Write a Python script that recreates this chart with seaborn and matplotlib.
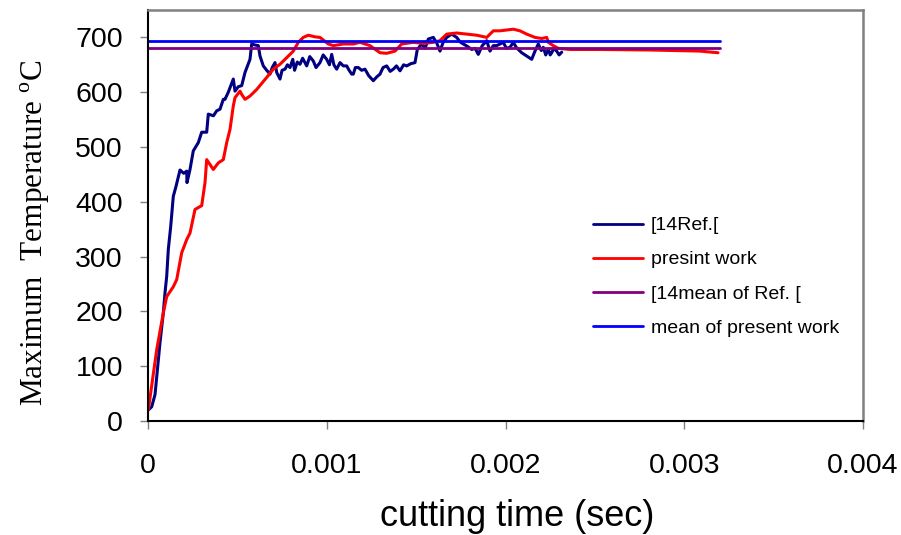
import numpy as np
import pandas as pd
import matplotlib
matplotlib.use("Agg")
import matplotlib.pyplot as plt
import seaborn as sns

# ---------------- data (time in ms, temperature in °C) ----------------
ref_time_ms = [0.0017, 0.0207, 0.0392, 0.0487, 0.0671, 0.0856, 0.0951, 0.1046, 0.1136, 0.1270,
               0.1415, 0.1566, 0.1790, 0.2000, 0.2165, 0.2182, 0.2350, 0.2534, 0.2814, 0.3004,
               0.3284, 0.3373, 0.3660, 0.3843, 0.4028, 0.4213, 0.4308, 0.4492, 0.4772, 0.4867,
               0.5050, 0.5242, 0.5427, 0.5706, 0.5801, 0.6000, 0.6171, 0.6266, 0.6450, 0.6640,
               0.6825, 0.6950, 0.7105, 0.7200, 0.7385, 0.7500, 0.7664, 0.7800, 0.7944, 0.8100,
               0.8200, 0.8350, 0.8503, 0.8650, 0.8878, 0.9050, 0.9247, 0.9400, 0.9622, 0.9800,
               0.9997, 1.0150, 1.0277, 1.0400, 1.0557, 1.0741, 1.0926, 1.1116, 1.1250, 1.1396,
               1.1485, 1.1600, 1.1765, 1.1950, 1.2140, 1.2350, 1.2604, 1.2800, 1.2979, 1.3150,
               1.3354, 1.3550, 1.3723, 1.3900, 1.4098, 1.4300, 1.4473, 1.4700, 1.4937, 1.5066,
               1.5312, 1.5500, 1.5681, 1.5961, 1.6150, 1.6336, 1.6500, 1.6711, 1.6990, 1.7270,
               1.7450, 1.7639, 1.7850, 1.8109, 1.8300, 1.8478, 1.8700, 1.8948, 1.9133, 1.9318,
               1.9508, 1.9692, 1.9877, 2.0050, 2.0252, 2.0437, 2.0600, 2.0716, 2.0906, 2.1186,
               2.1466, 2.1650, 2.1835, 2.2000, 2.2114, 2.2250, 2.2394, 2.2500, 2.2585, 2.2700,
               2.2864, 2.3000, 2.3144]
ref_temp = [20, 26, 48, 81, 143, 197, 234, 264, 313, 355,
            410, 428, 458, 452, 456, 435, 459, 493, 508, 527,
            527, 560, 557, 566, 569, 587, 587, 600, 624, 602,
            610, 612, 636, 660, 688, 686, 685, 666, 648, 640,
            633, 645, 654, 636, 624, 640, 642, 650, 645, 660,
            640, 655, 651, 662, 648, 665, 657, 645, 654, 668,
            660, 650, 669, 650, 642, 654, 648, 648, 640, 633,
            633, 645, 645, 640, 642, 630, 621, 628, 633, 645,
            648, 638, 642, 648, 639, 650, 648, 652, 654, 678,
            688, 680, 697, 700, 690, 675, 690, 700, 706, 700,
            692, 688, 684, 678, 680, 669, 685, 694, 675, 685,
            685, 688, 691, 680, 682, 691, 682, 678, 672, 666,
            660, 675, 688, 676, 682, 668, 678, 668, 672, 680,
            675, 668, 673]

present_time_ms = [0.0017, 0.0487, 0.0856, 0.1046, 0.1415, 0.1606, 0.1885, 0.2165, 0.2350, 0.2629,
                   0.3004, 0.3189, 0.3284, 0.3469, 0.3653, 0.3933, 0.4213, 0.4403, 0.4587, 0.4772,
                   0.4867, 0.5147, 0.5242, 0.5427, 0.5706, 0.6081, 0.6641, 0.7010, 0.7385, 0.7759,
                   0.8129, 0.8408, 0.8688, 0.8968, 0.9343, 0.9622, 1.0087, 1.0366, 1.0926, 1.1485,
                   1.1860, 1.2420, 1.2979, 1.3354, 1.3818, 1.4193, 1.4842, 1.5401, 1.5961, 1.6336,
                   1.6711, 1.7270, 1.7829, 1.8389, 1.8948, 1.9318, 1.9692, 2.0437, 2.0811, 2.1186,
                   2.1650, 2.2025, 2.2305, 2.2394, 2.2674, 2.2954, 2.3608, 2.5287, 2.8084, 3.0881,
                   3.1888]
present_temp = [20, 130, 197, 227, 245, 258, 307, 331, 343, 386,
                393, 435, 477, 468, 459, 471, 477, 508, 532, 575,
                590, 602, 596, 587, 593, 605, 627, 642, 651, 663,
                675, 691, 700, 704, 701, 700, 688, 685, 688, 688,
                691, 685, 672, 671, 675, 688, 691, 689, 691, 694,
                706, 708, 706, 704, 700, 712, 712, 715, 712, 706,
                700, 698, 700, 691, 685, 680, 678, 678, 677, 675,
                672]

mean_span_ms = [0.0, 3.2]
ref_mean = 680
present_mean = 693

labels = ["[14Ref.[", "presint work", "[14mean of Ref. [", "mean of present work"]
colors = ["#000080", "#FF0000", "#800080", "#0000FF"]

x_ticks = [0, 0.001, 0.002, 0.003, 0.004]
x_tick_labels = ["0", "0.001", "0.002", "0.003", "0.004"]
y_ticks = [0, 100, 200, 300, 400, 500, 600, 700]

# ---------------- build frames ----------------
ref_df = pd.DataFrame({"t": np.array(ref_time_ms) * 1e-3, "T": ref_temp})
pres_df = pd.DataFrame({"t": np.array(present_time_ms) * 1e-3, "T": present_temp})
ref_mean_df = pd.DataFrame({"t": np.array(mean_span_ms) * 1e-3, "T": [ref_mean] * 2})
pres_mean_df = pd.DataFrame({"t": np.array(mean_span_ms) * 1e-3, "T": [present_mean] * 2})

sns.set_theme(style="white")
plt.rcParams["font.family"] = ["Liberation Sans", "DejaVu Sans"]
plt.rcParams["mathtext.fontset"] = "custom"
plt.rcParams["mathtext.rm"] = "Liberation Serif"
plt.rcParams["text.color"] = "black"
plt.rcParams["axes.labelcolor"] = "black"
plt.rcParams["xtick.labelcolor"] = "black"
plt.rcParams["ytick.labelcolor"] = "black"

fig = plt.figure(figsize=(9.01, 5.35), dpi=100)
ax = fig.add_axes([148 / 901, 1 - 421 / 535, 715 / 901, 411 / 535])

sns.lineplot(data=ref_df, x="t", y="T", sort=False, color=colors[0], lw=2.2,
             label=labels[0], ax=ax, estimator=None)
sns.lineplot(data=pres_df, x="t", y="T", sort=False, color=colors[1], lw=2.2,
             label=labels[1], ax=ax, estimator=None)
sns.lineplot(data=ref_mean_df, x="t", y="T", sort=False, color=colors[2], lw=2.0,
             label=labels[2], ax=ax, estimator=None)
sns.lineplot(data=pres_mean_df, x="t", y="T", sort=False, color=colors[3], lw=2.0,
             label=labels[3], ax=ax, estimator=None)

ax.set_xlim(0, 0.004)
ax.set_ylim(0, 750)
ax.set_xticks(x_ticks)
ax.set_xticklabels(x_tick_labels)
ax.set_yticks(y_ticks)

for s in ["left", "bottom"]:
    ax.spines[s].set_color("black")
    ax.spines[s].set_linewidth(1.5)
for s in ["top", "right"]:
    ax.spines[s].set_color("#808080")
    ax.spines[s].set_linewidth(1.8)

ax.tick_params(axis="x", direction="out", length=6, width=1, color="#808080",
               labelsize=20.5, pad=17, bottom=True, labelcolor="black")
ax.tick_params(axis="y", direction="out", length=6, width=1, color="#808080",
               labelsize=20.5, pad=12, left=True, labelcolor="black")

ax.set_xlabel("cutting time (sec)", fontsize=26, color="black")
ax.xaxis.set_label_coords(0.516, -0.19)
ax.set_ylabel(r"Maximum  Temperature $^{\mathrm{o}}\mathrm{C}$", fontsize=22.5,
              family=["Liberation Serif", "DejaVu Serif"], color="black")
ax.yaxis.set_label_coords(-0.134, 0.457)

leg = ax.legend(loc="upper left", bbox_to_anchor=(0.622, 0.497), frameon=False,
                fontsize=14, handlelength=2.6, handletextpad=0.4,
                labelspacing=0.85, borderpad=0, borderaxespad=0)
for line in leg.get_lines():
    line.set_linewidth(2.0)
for txt in leg.get_texts():
    txt.set_color("black")

fig.savefig("out.png", dpi=100)
